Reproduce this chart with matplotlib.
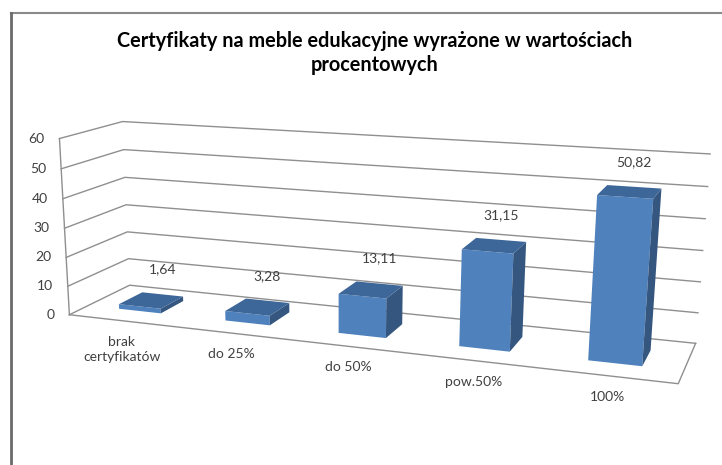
import numpy as np
import matplotlib.pyplot as plt
from matplotlib.patches import Polygon

categories = ["brak\ncertyfikatów", "do 25%", "do 50%", "pow.50%", "100%"]
values = [1.64, 3.28, 13.11, 31.15, 50.82]
value_labels = ["1,64", "3,28", "13,11", "31,15", "50,82"]
y_ticks = [0, 10, 20, 30, 40, 50, 60]
title = "Certyfikaty na meble edukacyjne wyrażone w wartościach\nprocentowych"

W, H = 722, 465
N = len(categories)
ZMAX = y_ticks[-1]

# perspective of the 3D box: where the corners of the chart box land in the picture
# (x in category units, depth 0..1, value) -> pixel
box_3d = [(0, 0, 0), (0, 1, 0), (N, 1, 0), (N, 0, 0), (0, 1, ZMAX), (N, 1, ZMAX), (0, 0, ZMAX)]
box_px = [(71, 315), (128, 285), (696, 343), (678, 384), (124, 122), (710, 154), (58, 138)]


def fit_camera(pts3, pts2):
    """projection matrix from corner pairs (DLT)"""
    rows = []
    for (X, Y, Z), (u, v) in zip(pts3, pts2):
        Z = Z / 10; u = u / 100; v = v / 100
        rows.append([X, Y, Z, 1, 0, 0, 0, 0, -u * X, -u * Y, -u * Z, -u])
        rows.append([0, 0, 0, 0, X, Y, Z, 1, -v * X, -v * Y, -v * Z, -v])
    _, _, vt = np.linalg.svd(np.array(rows, dtype=float))
    P = vt[-1].reshape(3, 4)
    return P / P[2, 3]


P = fit_camera(box_3d, box_px)


def proj(X, Y, Z):
    p = P @ np.array([X, Y, Z / 10, 1.0])
    return p[0] / p[2] * 100, p[1] / p[2] * 100


plt.rcParams["font.family"] = ["Lato", "DejaVu Sans"]
fig = plt.figure(figsize=(W / 100, H / 100), dpi=100)
ax = fig.add_axes([0, 0, 1, 1])
ax.set_xlim(0, W)
ax.set_ylim(H, 0)
ax.axis("off")

grid_c = "#8f8f8f"
text_c = "#404040"

# gridlines on the left wall and back wall
for z in y_ticks:
    a, b, c = proj(0, 0, z), proj(0, 1, z), proj(N, 1, z)
    ax.plot([a[0], b[0], c[0]], [a[1], b[1], c[1]], color=grid_c, lw=1.0, zorder=1)
# floor front and right edge, value axis
pts = [proj(0, 0, 0), proj(N, 0, 0), proj(N, 1, 0)]
ax.plot([p[0] for p in pts], [p[1] for p in pts], color=grid_c, lw=1.0, zorder=1)
a, b = proj(0, 0, 0), proj(0, 0, ZMAX)
ax.plot([a[0], b[0]], [a[1], b[1]], color=grid_c, lw=1.0, zorder=1)

for z in y_ticks:
    x, y = proj(0, 0, z)
    ax.text(x - 15, y, str(z), ha="right", va="center", fontsize=10, color=text_c)

# bars
for i, v in enumerate(values):
    x0, x1, d0, d1 = i + 0.3, i + 0.7, 0.3, 0.7
    front = [proj(x0, d0, 0), proj(x1, d0, 0), proj(x1, d0, v), proj(x0, d0, v)]
    side = [proj(x1, d0, 0), proj(x1, d1, 0), proj(x1, d1, v), proj(x1, d0, v)]
    top = [proj(x0, d0, v), proj(x1, d0, v), proj(x1, d1, v), proj(x0, d1, v)]
    ax.add_patch(Polygon(front, closed=True, facecolor="#4f81bd", edgecolor="none", zorder=3))
    ax.add_patch(Polygon(side, closed=True, facecolor="#34567f", edgecolor="none", zorder=3))
    ax.add_patch(Polygon(top, closed=True, facecolor="#3d6699", edgecolor="none", zorder=3))

    lx, ly = proj(i + 0.5, d1, v)
    ax.text(lx, ly - 25, value_labels[i], ha="center", va="center", fontsize=10,
            color=text_c, zorder=5)
    cx, cy = proj(i + 0.5, 0, 0)
    ax.text(cx, cy + 15, categories[i], ha="center", va="top", fontsize=10, color=text_c,
            linespacing=1.3, zorder=5)

ax.text(375, 53, title, ha="center", va="center", fontsize=14.3, fontweight="bold",
        color="black", linespacing=1.2)

# chart border
ax.plot([11, W], [13, 13], color="#8a8a8a", lw=1.5)
ax.plot([11, 11], [13, H], color="#6a6a6a", lw=2.0)

fig.savefig("out.png", dpi=100)
